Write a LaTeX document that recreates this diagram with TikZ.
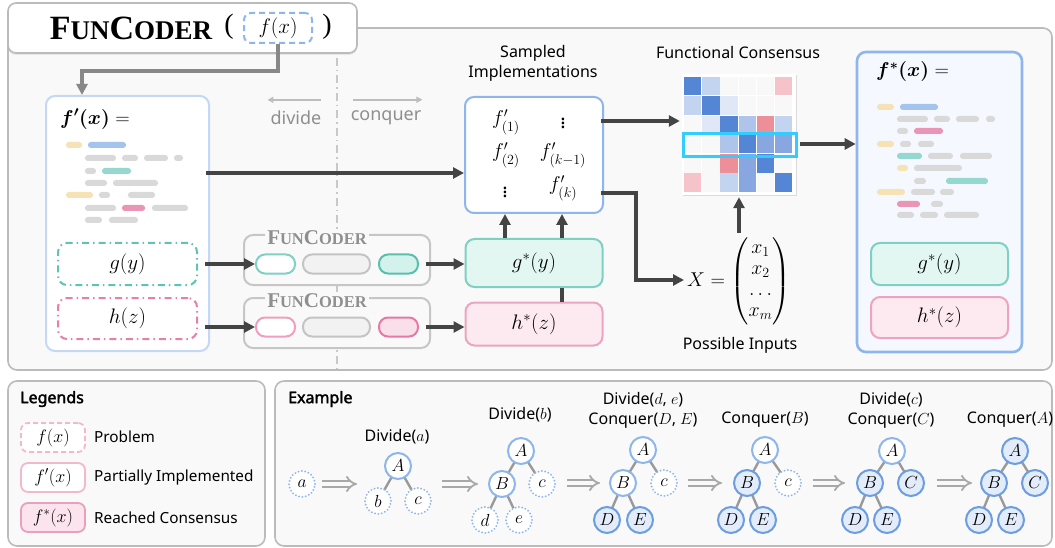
\RequirePackage{fix-cm}
\documentclass[tikz,border=0pt]{standalone}
\usepackage{amsmath}
\usepackage[no-math]{fontspec}
\setmainfont{Noto Sans}
\newfontfamily\boldsans{Noto Sans}[FakeBold=2.2]
\newfontfamily\titlefont{Liberation Serif}
\usetikzlibrary{arrows.meta,shadows,calc}
\definecolor{panelgray}{HTML}{BBBBBB}
\definecolor{panelfill}{HTML}{F9F9F9}
\definecolor{arrowdark}{HTML}{444444}
\definecolor{arrowgray}{HTML}{888888}
\definecolor{lightgray}{HTML}{BDBDBD}
\definecolor{divgray}{HTML}{C8C8C8}
\definecolor{txtgray}{HTML}{8F8F8F}
\definecolor{fpblue}{HTML}{C4D8F5}
\definecolor{sblue}{HTML}{8DB6EC}
\definecolor{fsfill}{HTML}{F5F9FF}
\definecolor{tealdd}{HTML}{5FC2B3}
\definecolor{pinkdd}{HTML}{E680A8}
\definecolor{teallt}{HTML}{7FD1C4}
\definecolor{tealdk}{HTML}{5BBFAE}
\definecolor{tealfillA}{HTML}{D3F2EC}
\definecolor{tealfillB}{HTML}{E2F6F2}
\definecolor{tealbd}{HTML}{7FCFC2}
\definecolor{pinklt}{HTML}{EE9FBE}
\definecolor{pinkdk}{HTML}{E57AA4}
\definecolor{pinkfillA}{HTML}{F9DFE9}
\definecolor{pinkfillB}{HTML}{FCEAF0}
\definecolor{pinkbd}{HTML}{ECA4C0}
\definecolor{pillgray}{HTML}{C4C4C4}
\definecolor{pillfill}{HTML}{F2F2F2}
\definecolor{fcgray}{HTML}{C6C6C6}
\definecolor{cy}{HTML}{F5E3B5}
\definecolor{cb}{HTML}{A4C4EE}
\definecolor{cg}{HTML}{D9D9D9}
\definecolor{ct}{HTML}{94D8CF}
\definecolor{cp}{HTML}{EA94B6}
\definecolor{mD}{HTML}{5585D5}
\definecolor{mL}{HTML}{C3D4F1}
\definecolor{mV}{HTML}{E0E8F7}
\definecolor{mW}{HTML}{F8F8F8}
\definecolor{mM}{HTML}{AEC4EB}
\definecolor{mN}{HTML}{88A6DF}
\definecolor{mP}{HTML}{F5C3C9}
\definecolor{mR}{HTML}{EC8F98}
\definecolor{hcyan}{HTML}{33CCFF}
\definecolor{treeblue}{HTML}{8DB6EC}
\definecolor{treedark}{HTML}{6C9DE0}
\definecolor{treefill}{HTML}{E3ECFA}
\definecolor{edgegray}{HTML}{9A9A9A}
\definecolor{implgray}{HTML}{A8A8A8}
\definecolor{lgpink}{HTML}{F2B8CD}
\definecolor{lgpinkdk}{HTML}{E9A0BD}
\definecolor{lgpinkfill}{HTML}{FBE4ED}
\newcommand{\fcsc}[2]{{\titlefont\bfseries\fontsize{#1}{#1}\selectfont F\fontsize{#2}{#2}\selectfont UN\fontsize{#1}{#1}\selectfont C\fontsize{#2}{#2}\selectfont ODER}}
\begin{document}
\begin{tikzpicture}[x=1pt,y=-1pt,
 panel/.style={draw=panelgray, line width=1.6pt, fill=panelfill, rounded corners=9pt},
 darrow/.style={draw=arrowdark, line width=3.3pt, -{Triangle[length=11pt,width=11pt]}},
 dline/.style={draw=arrowdark, line width=3.3pt},
 garrow/.style={draw=arrowgray, line width=3.3pt, -{Triangle[length=11pt,width=11pt]}},
 larrow/.style={draw=lightgray, line width=1.6pt, -{Triangle[length=6pt,width=6pt]}},
 mtext/.style={font=\fontsize{20}{22}\selectfont, inner sep=0},
 stext/.style={font=\fontsize{16}{20}\selectfont, inner sep=0, align=center},
 rbox/.style={rectangle, rounded corners=9pt, line width=2pt, inner sep=0, font=\fontsize{21}{22}\selectfont},
 ddbox/.style={rbox, dash pattern=on 7pt off 4pt on 1.5pt off 4pt},
 pill/.style={rectangle, rounded corners=9pt, line width=2pt, minimum height=19pt, inner sep=0},
 tn/.style={circle, minimum size=26pt, inner sep=0, line width=2pt, font=\fontsize{17.5}{17.5}\selectfont},
 tdot/.style={tn, draw=treeblue, fill=white, dash pattern=on 0.1pt off 3.3pt, line cap=round},
 tpart/.style={tn, draw=treeblue, fill=white},
 tdone/.style={tn, draw=treedark, fill=treefill},
 tedge/.style={draw=edgegray, line width=2.4pt},
 impl/.style={draw=implgray, line width=1.8pt, double=panelfill, double distance=3.6pt, -{Implies}},
 lgbox/.style={rectangle, rounded corners=7pt, line width=1.8pt, minimum width=64pt, minimum height=29pt, inner sep=0, font=\fontsize{18}{18}\selectfont},
 lgtext/.style={anchor=west, inner sep=0, font=\fontsize{15.3}{19}\selectfont}
]
\useasboundingbox (0,0) rectangle (1055,548);
% ---------- main panel ----------
\draw[panel] (8,28) rectangle (1052,370);
\draw[draw=divgray, line width=1.5pt, dash pattern=on 8pt off 4pt on 1.5pt off 4pt] (337,58) -- (337,369);
\node[rectangle, draw=panelgray, line width=1.6pt, fill=white, rounded corners=8pt, minimum width=349pt, minimum height=50pt, drop shadow={opacity=0.15, shadow xshift=0pt, shadow yshift=-2pt}] (title) at (182.5,28) {};
\node[inner sep=0] (tname) at (131,28) {\fcsc{34}{27}};
\node[inner sep=0, font=\titlefont\fontsize{28}{28}\selectfont] (lp) at (229,27) {(};
\node[inner sep=0, font=\titlefont\fontsize{28}{28}\selectfont] (rp) at (327,27) {)};
\node[rectangle, draw=sblue, line width=2pt, dash pattern=on 6pt off 4pt, rounded corners=7pt, minimum width=68pt, minimum height=30pt, inner sep=0, font=\fontsize{21}{21}\selectfont] (fx) at (278,28) {$f(x)$};
% f' box
\node[rbox, draw=fpblue, fill=white, minimum width=163pt, minimum height=255pt] (fp) at (127.5,223.5) {};
\node[anchor=west, inner sep=0, font=\fontsize{20}{20}\selectfont] (fptitle) at (60,119) {$\boldsymbol{f'(x)} =$};
\foreach \a/\b/\y/\c in {66/82/145/cy, 88/126/145/cb, 85/116/158/cg, 122/138/158/cg, 144/168/158/cg, 174/183/158/cg, 85/96/171/cg, 102/131/171/ct, 85/107/183/cg, 113/158/183/cg, 66/93/195/cy, 99/110/195/cg, 128/155/195/cg, 85/116/208/cg, 122/145/208/cp, 152/188/208/cg, 85/102/220/cg, 109/138/220/cg}
  \fill[\c, rounded corners=2.8pt] (\a,\y-3) rectangle (\b,\y+3);
\node[ddbox, draw=tealdd, fill=white, minimum width=139pt, minimum height=42pt] (gy) at (127.5,264) {$g(y)$};
\node[ddbox, draw=pinkdd, fill=white, minimum width=139pt, minimum height=41pt] (hz) at (127.5,318.5) {$h(z)$};
\draw[garrow] (fx.south) -- ++(0,27) -| ([xshift=-45.5pt]fp.north);
% divide / conquer
\node[stext, text=txtgray, font=\fontsize{18}{20}\selectfont] (dv) at (296,118) {divide};
\node[stext, text=txtgray, font=\fontsize{18}{20}\selectfont] (cq) at (386,118) {conquer};
\draw[larrow] ([yshift=11pt,xshift=-1pt]dv.north east) -- ([yshift=11pt,xshift=-3pt]dv.north west);
\draw[larrow] ([yshift=11pt,xshift=2pt]cq.north west) -- ([yshift=11pt,xshift=1pt]cq.north east);
% FunCoder boxes
\node[rbox, draw=fcgray, fill=panelfill, minimum width=186pt, minimum height=50pt] (fc1) at (337,260) {};
\node[inner sep=2pt, fill=panelfill, text=txtgray] (fc1l) at (317,238) {\fcsc{21}{16.5}};
\node[pill, draw=teallt, fill=white, minimum width=39pt] (fc1a) at (275.5,264) {};
\node[pill, draw=pillgray, fill=pillfill, minimum width=67pt] (fc1b) at (336.5,264) {};
\node[pill, draw=tealdk, fill=tealfillA, minimum width=39pt] (fc1c) at (398.5,264) {};
\node[rbox, draw=fcgray, fill=panelfill, minimum width=186pt, minimum height=50pt] (fc2) at (337,323) {};
\node[inner sep=2pt, fill=panelfill, text=txtgray] (fc2l) at (317,301) {\fcsc{21}{16.5}};
\node[pill, draw=pinklt, fill=white, minimum width=39pt] (fc2a) at (275.5,327) {};
\node[pill, draw=pillgray, fill=pillfill, minimum width=67pt] (fc2b) at (336.5,327) {};
\node[pill, draw=pinkdk, fill=pinkfillA, minimum width=39pt] (fc2c) at (398.5,327) {};
\draw[darrow] ([xshift=7pt]gy.east) -- (fc1a.west);
\draw[darrow] ([xshift=7pt]hz.east |- fc2a.west) -- (fc2a.west);
% sampled
\node[stext] (sitxt) at (533,63) {Sampled\\Implementations};
\node[rbox, draw=sblue, fill=white, minimum width=138pt, minimum height=116pt] (sp) at (534,155) {};
\node[mtext] (s1) at (506,122) {$f'_{(1)}$};
\node[mtext] (s2) at (563,120) {$\vdots$};
\node[mtext] (s3) at (506,155) {$f'_{(2)}$};
\node[mtext] (s4) at (563,155) {$f'_{(k-1)}$};
\node[mtext] (s5) at (505,189) {$\vdots$};
\node[mtext] (s6) at (563,188) {$f'_{(k)}$};
\node[rbox, draw=tealbd, fill=tealfillB, minimum width=137pt, minimum height=48pt] (gs) at (534,263) {$g^{*}(y)$};
\node[rbox, draw=pinkbd, fill=pinkfillB, minimum width=137pt, minimum height=43pt] (hs) at (534,324) {$h^{*}(z)$};
\draw[darrow] ([xshift=7pt]fc1c.east) -- (gs.west |- fc1c.east);
\draw[darrow] ([xshift=7pt]fc2c.east) -- (hs.west |- fc2c.east);
\draw[darrow] ([xshift=-4pt]fp.east |- 0,173) -- (sp.west |- 0,173);
\draw[darrow] (gs.north -| 505,0) -- (sp.south -| 505,0);
\draw[darrow] (gs.north -| 562,0) -- (sp.south -| 562,0);
\draw[dline] (hs.north -| 562,0) -- (gs.south -| 562,0);
% matrix
\node[stext] (fctxt) at (738,53) {Functional Consensus};
\node[rectangle, fill=white, minimum width=114pt, minimum height=121pt, inner sep=0, drop shadow={opacity=0.25, shadow xshift=1pt, shadow yshift=-1pt}] (mat) at (739,134.5) {};
\foreach \row [count=\j from 0] in {{mD,mL,mW,mW,mW,mP},{mL,mD,mV,mW,mW,mW},{mW,mV,mD,mM,mR,mL},{mW,mW,mM,mD,mN,mN},{mW,mW,mR,mN,mD,mW},{mP,mW,mL,mN,mW,mD}}
  \foreach \c [count=\i from 0] in \row
    \fill[\c] ({684+\i*18.2},{77+\j*19.3}) rectangle ++(17.3,18.4);
\draw[hcyan, line width=3pt] (683,133.5) rectangle (796,156.5);
\draw[darrow] ([xshift=-3pt]sp.east |- 0,121) -- ([xshift=-2pt]mat.west |- 0,121);
% X vector
\node[inner sep=0, font=\fontsize{20}{21}\selectfont, anchor=west] (xv) at (687,281) {$X = \begin{pmatrix} x_1\\ x_2\\ \ldots\\ x_m\end{pmatrix}$};
\node[stext] (pitxt) at (740,345) {Possible Inputs};
\draw[darrow] ([xshift=-3pt]sp.east |- 0,193) -| (636,280) -- ([xshift=-3pt]xv.west |- 0,280);
\draw[darrow] (mat.south |- 0,233) -- ([yshift=-2pt]mat.south);
% f* box
\node[rbox, draw=sblue, line width=2.6pt, fill=fsfill, minimum width=165pt, minimum height=300pt] (fs) at (939.5,202) {};
\node[anchor=west, inner sep=0, font=\fontsize{20}{20}\selectfont] (fstitle) at (876,72) {$\boldsymbol{f^{*}(x)} =$};
\foreach \a/\b/\y/\c in {877/894/107/cy, 900/938/107/cb, 897/928/119/cg, 934/950/119/cg, 956/979/119/cg, 986/995/119/cg, 897/908/131/cg, 914/943/131/cp, 877/894/144/cy, 900/911/144/cg, 918/934/144/cg, 897/922/156/ct, 928/953/156/cg, 960/992/156/cg, 897/908/168/cy, 914/962/168/cg, 914/926/181/cg, 946/988/181/ct, 877/905/192/cy, 911/935/192/cg, 940/954/192/cg, 897/920/204/cp, 931/943/204/cg, 897/914/215/cg, 920/938/215/cg, 944/979/215/cg}
  \fill[\c, rounded corners=2.8pt] (\a,\y-3) rectangle (\b,\y+3);
\node[rbox, draw=tealbd, fill=tealfillB, minimum width=137pt, minimum height=42pt] (gss) at (939.5,264) {$g^{*}(y)$};
\node[rbox, draw=pinkbd, fill=pinkfillB, minimum width=137pt, minimum height=41pt] (hss) at (939.5,317.5) {$h^{*}(z)$};
\draw[darrow] ([xshift=4pt]mat.east |- 0,144) -- (fs.west |- 0,144);
% ---------- legends ----------
\draw[panel] (8,381) rectangle (265,546);
\node[lgtext, font=\boldsans\fontsize{16}{19}\selectfont] (lgt) at (20,399) {Legends};
\node[lgbox, draw=lgpink, fill=white, dash pattern=on 5pt off 3pt] (lg1) at (53,437.5) {$f(x)$};
\node[lgbox, draw=lgpink, fill=white] (lg2) at (53,477.5) {$f'(x)$};
\node[lgbox, draw=lgpinkdk, fill=lgpinkfill] (lg3) at (53,517.5) {$f^{*}(x)$};
\node[lgtext] (lt1) at (94,437) {Problem};
\node[lgtext] (lt2) at (94,478) {Partially Implemented};
\node[lgtext] (lt3) at (94,518) {Reached Consensus};
% ---------- example ----------
\draw[panel] (275,381) rectangle (1052,546);
\node[lgtext, font=\boldsans\fontsize{16}{19}\selectfont] (ext) at (288,399) {Example};
% step 0
\node[tdot] (t0a) at (302,484) {$a$};
\draw[impl] (322,484) -- (357,484);
% step 1
\node[stext] (l1) at (397,437) {Divide($a$)};
\draw[tedge] (398,466) -- (378,501) (398,466) -- (418,501);
\node[tpart] (t1A) at (398,466) {$A$};
\node[tdot] (t1b) at (378,501) {$b$};
\node[tdot] (t1c) at (418,501) {$c$};
\draw[impl] (442,484) -- (478,484);
% step 2
\node[stext] (l2) at (520,415) {Divide($b$)};
\draw[tedge] (521,451) -- (502,484) (521,451) -- (542,484) (502,484) -- (485,520) (502,484) -- (519,520);
\node[tpart] (t2A) at (521,451) {$A$};
\node[tpart] (t2B) at (502,484) {$B$};
\node[tdot] (t2c) at (542,484) {$c$};
\node[tdot] (t2d) at (485,520) {$d$};
\node[tdot] (t2e) at (519,520) {$e$};
\draw[impl] (567,483) -- (600,483);
% step 3
\node[stext] (l3) at (643,410.5) {Divide($d$, $e$)\\Conquer($D$, $E$)};
\draw[tedge] (643,450) -- (623,483) (643,450) -- (664,483) (623,483) -- (607,520) (623,483) -- (640,520);
\node[tpart] (t3A) at (643,450) {$A$};
\node[tpart] (t3B) at (623,483) {$B$};
\node[tdot] (t3c) at (664,483) {$c$};
\node[tdone] (t3D) at (607,520) {$D$};
\node[tdone] (t3E) at (640,520) {$E$};
\draw[impl] (688,483) -- (722,483);
% step 4
\node[stext] (l4) at (765,420) {Conquer($B$)};
\draw[tedge] (765,450) -- (747,483) (765,450) -- (788,483) (747,483) -- (731,520) (747,483) -- (763,520);
\node[tpart] (t4A) at (765,450) {$A$};
\node[tdone] (t4B) at (747,483) {$B$};
\node[tdot] (t4c) at (788,483) {$c$};
\node[tdone] (t4D) at (731,520) {$D$};
\node[tdone] (t4E) at (763,520) {$E$};
\draw[impl] (813,483) -- (845,483);
% step 5
\node[stext] (l5) at (891,410.5) {Divide($c$)\\Conquer($C$)};
\draw[tedge] (892,451) -- (870,483) (892,451) -- (911,483) (870,483) -- (855,520) (870,483) -- (887,520);
\node[tpart] (t5A) at (892,451) {$A$};
\node[tdone] (t5B) at (870,483) {$B$};
\node[tdone] (t5C) at (911,483) {$C$};
\node[tdone] (t5D) at (855,520) {$D$};
\node[tdone] (t5E) at (887,520) {$E$};
\draw[impl] (937,483) -- (972,483);
% step 6
\node[stext] (l6) at (1010,420) {Conquer($A$)};
\draw[tedge] (1015,451) -- (994,483) (1015,451) -- (1035,483) (994,483) -- (979,520) (994,483) -- (1011,520);
\node[tdone] (t6A) at (1015,451) {$A$};
\node[tdone] (t6B) at (994,483) {$B$};
\node[tdone] (t6C) at (1035,483) {$C$};
\node[tdone] (t6D) at (979,520) {$D$};
\node[tdone] (t6E) at (1011,520) {$E$};
\end{tikzpicture}
\end{document}
